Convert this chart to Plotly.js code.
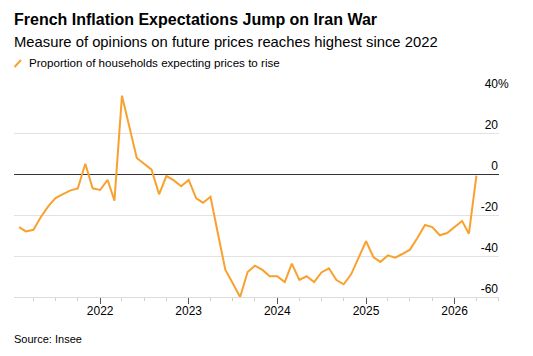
<!DOCTYPE html>
<html>
<head>
<meta charset="utf-8">
<script src="https://cdn.plot.ly/plotly-3.0.1.min.js"></script>
<style>
  html, body { margin: 0; padding: 0; background: #fff; }
  #chart { width: 533px; height: 356px; }
</style>
</head>
<body>
<div id="chart"></div>
<script>
// ---- Data ----
const seriesName = "Proportion of households expecting prices to rise";
const startYear = 2021;
const startMonth = 2; // February 2021
const values = [
  // 2021 (Feb-Dec)
  -25.9, -28.0, -27.2, -21.1, -15.8, -11.7, -9.8, -8.0, -7.0, 5.0, -7.0,
  // 2022
  -7.8, -2.9, -13.0, 38.2, 23.0, 7.8, 5.0, 2.1, -9.9, -1.0, -3.1, -6.0,
  // 2023
  -2.9, -11.9, -14.0, -11.1, -28.8, -46.7, -53.2, -60.0, -47.8, -44.7, -46.8, -49.9,
  // 2024
  -49.9, -52.7, -43.7, -51.7, -49.9, -52.7, -48.0, -46.0, -51.7, -53.8, -48.8, -40.7,
  // 2025
  -32.8, -40.7, -42.9, -39.7, -40.8, -38.9, -36.9, -31.1, -24.9, -25.9, -29.9, -28.8,
  // 2026
  -25.9, -22.9, -29.1, -0.8
];
const yTickVals = [-60, -40, -20, 0, 20, 40];
const yTickText = ["-60", "-40", "-20", "0", "20", "40"];
const xTickYears = ["2022", "2023", "2024", "2025", "2026"];

// monthly dates
const dates = values.map((v, i) => {
  const m0 = (startMonth - 1) + i;
  const y = startYear + Math.floor(m0 / 12);
  const m = (m0 % 12) + 1;
  return y + "-" + String(m).padStart(2, "0") + "-01";
});

const FONT = "Liberation Sans, Arial, Helvetica, sans-serif";
const ORANGE = "#f9a12e";

const trace = {
  x: dates,
  y: values,
  type: "scatter",
  mode: "lines",
  name: seriesName,
  line: { color: ORANGE, width: 2 },
  hoverinfo: "x+y"
};

const W = 533, H = 356;
const PH = 205, PW = 485, PT = 92;
const layout = {
  width: W, height: H,
  margin: { l: 14, r: 34, t: 92, b: 59, autoexpand: false },
  paper_bgcolor: "#fff",
  plot_bgcolor: "#fff",
  showlegend: false,
  font: { family: FONT, color: "#000", size: 12 },
  title: {
    text: "<b>French Inflation Expectations Jump on Iran War</b>",
    xref: "container", yref: "container",
    x: 14 / W, xanchor: "left",
    y: 1 - 14 / H, yanchor: "top",
    font: { family: FONT, size: 16, color: "#000" }
  },
  xaxis: {
    type: "date",
    range: ["2021-01-11", "2026-07-03"],
    tickmode: "array",
    tickvals: xTickYears.map(y => y + "-01-01"),
    ticktext: xTickYears,
    ticks: "outside",
    ticklen: 6,
    tickwidth: 1,
    tickcolor: "#555",
    ticklabelstandoff: -3,
    showline: true,
    linecolor: "#dcdcdc",
    linewidth: 1,
    showgrid: false,
    zeroline: false,
    tickfont: { family: FONT, size: 12, color: "#000" },
    minor: {
      tickmode: "auto",
      dtick: "M3",
      tick0: "2021-01-01",
      ticks: "outside",
      ticklen: 3,
      tickwidth: 1,
      tickcolor: "#cfcfcf",
      showgrid: false
    },
    fixedrange: true
  },
  yaxis: {
    range: [-60, 40],
    side: "right",
    tickmode: "array",
    tickvals: yTickVals,
    ticktext: yTickText,
    ticks: "",
    ticklabelposition: "inside top",
    ticklabeloverflow: "allow",
    ticklabelstandoff: -2,
    showgrid: true,
    gridcolor: "#e2e2e2",
    gridwidth: 1,
    zeroline: true,
    zerolinecolor: "#333",
    zerolinewidth: 1,
    showline: false,
    tickfont: { family: FONT, size: 12, color: "#000" },
    fixedrange: true
  },
  annotations: [
    {
      text: "Measure of opinions on future prices reaches highest since 2022",
      xref: "paper", yref: "paper",
      x: 0, xanchor: "left", xshift: -2,
      y: 1 + (PT - 41.5) / PH, yanchor: "middle",
      showarrow: false,
      font: { family: FONT, size: 14.8, color: "#000" }
    },
    {
      text: seriesName,
      xref: "paper", yref: "paper",
      x: 13 / PW, xanchor: "left",
      y: 1 + (PT - 62.5) / PH, yanchor: "middle",
      showarrow: false,
      font: { family: FONT, size: 11.6, color: "#000" }
    },
    {
      text: "%",
      xref: "paper", yref: "y",
      x: 1, xanchor: "left", xshift: -3,
      y: 40, yanchor: "bottom",
      yshift: -1,
      showarrow: false,
      font: { family: FONT, size: 12, color: "#000" }
    },
    {
      text: "Source: Insee",
      xref: "paper", yref: "paper",
      x: 0, xanchor: "left", xshift: -2,
      y: -(339 - (PT + PH)) / PH, yanchor: "middle",
      showarrow: false,
      font: { family: FONT, size: 11, color: "#000" }
    }
  ],
  shapes: [
    {
      type: "line", xref: "paper", yref: "paper",
      x0: 0.5 / PW, x1: 7 / PW,
      y0: 1 + (PT - 67) / PH, y1: 1 + (PT - 60) / PH,
      line: { color: ORANGE, width: 2 }
    }
  ]
};

Plotly.newPlot("chart", [trace], layout, { displayModeBar: false, staticPlot: true });
</script>
</body>
</html>
